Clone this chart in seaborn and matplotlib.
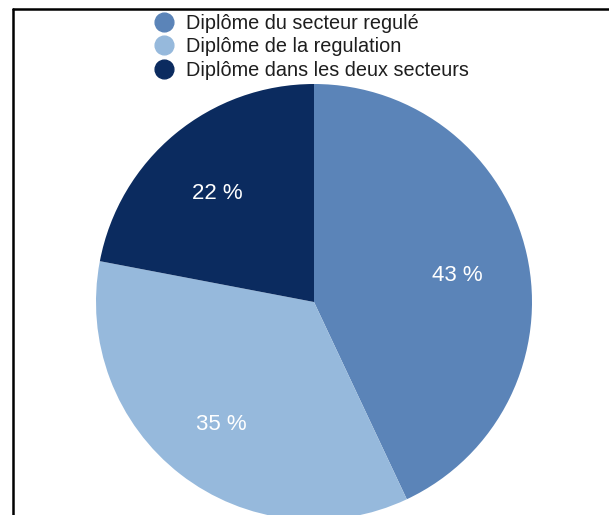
import matplotlib
matplotlib.use("Agg")
import matplotlib.pyplot as plt
from matplotlib.lines import Line2D
import seaborn as sns

# Share of graduates by type of diploma (percent)
labels = ["Diplôme du secteur regulé", "Diplôme de la regulation", "Diplôme dans les deux secteurs"]
shares = [43, 35, 22]
colors = ["#5b84b8", "#96b9dc", "#0b2b5f"]

sns.set_theme(style="white")
plt.rcParams["font.family"] = ["Liberation Sans", "DejaVu Sans"]

W, H = 609, 515
fig = plt.figure(figsize=(W / 100, H / 100), dpi=100)
fig.patch.set_facecolor("white")

# Pie axes: centre and radius in pixels
cx, cy, r = 314, 302, 218
ax = fig.add_axes([(cx - r) / W, (H - cy - r) / H, 2 * r / W, 2 * r / H])
wedges, _, autotexts = ax.pie(
    shares,
    colors=colors,
    startangle=90,
    counterclock=False,
    autopct=lambda p: f"{p:.0f} %",
    pctdistance=0.68,
    textprops=dict(color="white", fontsize=16),
    wedgeprops=dict(linewidth=0),
)
ax.set_xlim(-1, 1)
ax.set_ylim(-1, 1)
ax.set_aspect("equal")
for w in wedges:
    w.set_clip_on(False)
# centre the percentage labels on their digits rather than the full text box
for t in autotexts:
    t.set_va("center_baseline")
    x, y = t.get_position()
    t.set_position((x - 0.008, y - 0.014))

# Legend with round markers at the top
handles = [
    Line2D([], [], marker="o", linestyle="", markersize=13.5,
           markerfacecolor=c, markeredgecolor=c)
    for c in colors
]
fig.legend(
    handles, labels,
    loc="upper left", bbox_to_anchor=(154 / W, 1 - 14 / H),
    frameon=False, fontsize=14.3, labelcolor="#1e1e1e",
    handlelength=1.0, handletextpad=0.62, labelspacing=0.22,
    borderpad=0, borderaxespad=0,
)

# Frame lines on the top and left edges
fig.add_artist(Line2D([13 / W, 1], [1 - 9 / H, 1 - 9 / H], transform=fig.transFigure,
                      color="black", lw=1.8))
fig.add_artist(Line2D([13 / W, 13 / W], [0, 1 - 9 / H], transform=fig.transFigure,
                      color="black", lw=1.8))

fig.savefig("out.png", dpi=100, facecolor="white")
